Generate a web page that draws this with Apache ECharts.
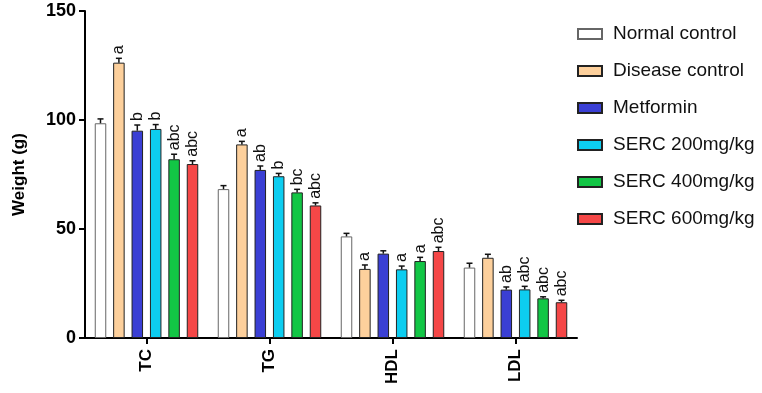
<!DOCTYPE html>
<html>
<head>
<meta charset="utf-8">
<script src="https://cdn.jsdelivr.net/npm/echarts@6/dist/echarts.min.js"></script>
<style>
  html, body { margin: 0; padding: 0; background: #fff; }
  #chart { width: 762px; height: 393px; }
</style>
</head>
<body>
<div id="chart"></div>
<script>
// categories and groups
const categories = ["TC", "TG", "HDL", "LDL"];
const groupNames = ["Normal control", "Disease control", "Metformin", "SERC 200mg/kg", "SERC 400mg/kg", "SERC 600mg/kg"];

// mean values per group
const normalControl = [98.5, 68.3, 46.6, 32.3];
const diseaseControl = [126.3, 88.8, 31.7, 36.8];
const metformin = [95.1, 77.1, 38.7, 22.2];
const serc200 = [95.9, 74.2, 31.5, 22.3];
const serc400 = [82.0, 66.8, 35.3, 18.2];
const serc600 = [79.8, 60.8, 39.9, 16.4];

// error (SEM) per group
const errNormal = [2.0, 1.6, 1.4, 2.0];
const errDisease = [2.0, 1.4, 1.8, 1.6];
const errMetformin = [2.6, 1.8, 1.3, 1.2];
const errSerc200 = [2.0, 1.3, 1.5, 1.4];
const errSerc400 = [2.3, 1.4, 1.7, 0.7];
const errSerc600 = [1.5, 1.2, 1.7, 0.9];

// significance letters
const sigNormal = ["", "", "", ""];
const sigDisease = ["a", "a", "a", ""];
const sigMetformin = ["b", "ab", "", "ab"];
const sigSerc200 = ["b", "b", "a", "abc"];
const sigSerc400 = ["abc", "bc", "a", "abc"];
const sigSerc600 = ["abc", "abc", "abc", "abc"];

const yTicks = { min: 0, max: 150, interval: 50 };

const values = [normalControl, diseaseControl, metformin, serc200, serc400, serc600];
const errors = [errNormal, errDisease, errMetformin, errSerc200, errSerc400, errSerc600];
const sigs = [sigNormal, sigDisease, sigMetformin, sigSerc200, sigSerc400, sigSerc600];

const fillColors = ["#ffffff", "#fdd09c", "#3a3fd4", "#0dcdf0", "#12c645", "#f54747"];
const borderColors = ["#666666", "#222222", "#222222", "#222222", "#222222", "#222222"];

const FONT = 'Arial, "Liberation Sans", sans-serif';
const BAR_W = 11.5;
const PITCH = 18.4; // bar width + gap

const chart = echarts.init(document.getElementById("chart"));

const barSeries = groupNames.map((name, i) => ({
  name: name,
  type: "bar",
  data: values[i],
  barWidth: BAR_W,
  barGap: "60%",
  z: 2,
  itemStyle: {
    color: fillColors[i],
    borderColor: borderColors[i],
    borderWidth: 1,
  },
}));

// error bars + letters, shifted to sit on their own bar
const errSeries = groupNames.map((name, i) => ({
  type: "custom",
  z: 3,
  silent: true,
  data: categories.map((c, k) => [k, values[i][k], errors[i][k]]),
  encode: { x: 0, y: 1 },
  renderItem: (params, api) => {
    const k = api.value(0);
    const v = api.value(1);
    const e = api.value(2);
    const sig = sigs[i][k];
    const off = (i - 2.5) * PITCH;
    const base = api.coord([k, v]);
    const top = api.coord([k, v + e]);
    const cx = base[0] + off;
    const children = [
      {
        type: "line",
        shape: { x1: cx, y1: base[1], x2: cx, y2: top[1] },
        style: { stroke: "#111", lineWidth: 1.5 },
      },
      {
        type: "line",
        shape: { x1: cx - 3, y1: top[1], x2: cx + 3, y2: top[1] },
        style: { stroke: "#111", lineWidth: 1.5 },
      },
    ];
    if (sig) {
      children.push({
        type: "text",
        x: cx,
        y: top[1] - 4,
        rotation: Math.PI / 2,
        style: {
          text: sig,
          fill: "#111",
          font: "16px " + FONT,
          align: "left",
          verticalAlign: "middle",
        },
      });
    }
    return { type: "group", children: children };
  },
}));

const option = {
  animation: false,
  textStyle: { fontFamily: FONT },
  legend: {
    data: groupNames,
    orient: "vertical",
    left: 572,
    top: 19,
    itemWidth: 24,
    itemHeight: 10,
    itemGap: 17,
    icon: "rect",
    textStyle: {
      fontSize: 19,
      color: "#111",
      fontFamily: FONT,
      lineHeight: 20,
      padding: [0, 0, 0, 6],
    },
  },
  grid: {
    left: 85,
    right: 185,
    top: 11,
    bottom: 55,
    containLabel: false,
  },
  xAxis: {
    type: "category",
    data: categories,
    axisLine: { lineStyle: { color: "#000", width: 2 } },
    axisTick: { show: true, alignWithLabel: true, length: 6, lineStyle: { color: "#000", width: 2 } },
    axisLabel: {
      rotate: 90,
      fontSize: 17,
      fontWeight: "bold",
      color: "#000",
      fontFamily: FONT,
      margin: 11,
    },
  },
  yAxis: {
    type: "value",
    min: yTicks.min,
    max: yTicks.max,
    interval: yTicks.interval,
    name: "Weight (g)",
    nameLocation: "middle",
    nameRotate: 90,
    nameGap: 57,
    nameTextStyle: { fontSize: 17, fontWeight: "bold", color: "#000", fontFamily: FONT },
    axisLine: { show: true, lineStyle: { color: "#000", width: 2 } },
    axisTick: { show: true, length: 6, lineStyle: { color: "#000", width: 2 } },
    splitLine: { show: false },
    axisLabel: {
      fontSize: 18,
      fontWeight: "bold",
      color: "#000",
      fontFamily: FONT,
      margin: 9,
    },
  },
  series: [...barSeries, ...errSeries],
};

chart.setOption(option);
</script>
</body>
</html>
